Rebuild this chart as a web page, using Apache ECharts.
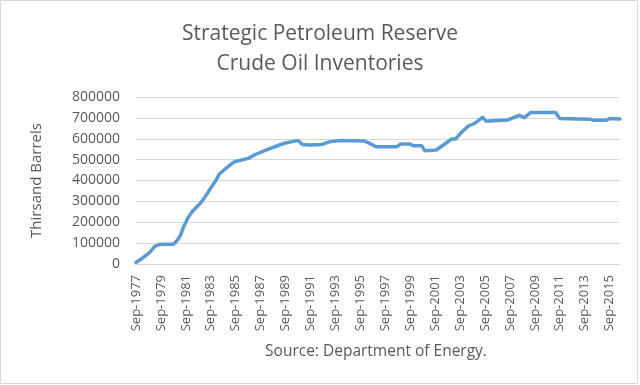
<!DOCTYPE html>
<html>
<head>
<meta charset="utf-8">
<script src="https://cdn.jsdelivr.net/npm/echarts@6/dist/echarts.min.js"></script>
<style>
html,body{margin:0;padding:0;background:#fff;}
#chart{width:640px;height:385px;}
</style>
</head>
<body>
<div id="chart"></div>
<script>
// Axis range (monthly categories)
const startYear = 1977, startMonth = 8; // Sep-1977 (0-based month)
const monthCount = 467;                   // through Jul-2016
const monthNames = ['Jan','Feb','Mar','Apr','May','Jun','Jul','Aug','Sep','Oct','Nov','Dec'];

// Readings from the reference (thousand barrels)
const pointDates = ['Sep-1977','May-1978','Oct-1978','Mar-1979','Jul-1979','Dec-1979','Sep-1980','Jan-1981','Apr-1981','Jul-1981',
  'Nov-1981','Mar-1982','Dec-1982','Jun-1983','Sep-1983','Feb-1984','May-1984','Dec-1984','Aug-1985','Sep-1986',
  'May-1987','Feb-1988','Mar-1989','Oct-1989','Aug-1990','Oct-1990','Jan-1991','Aug-1991','Aug-1992','Mar-1993',
  'Feb-1994','Jan-1996','Jun-1996','Dec-1996','Aug-1998','Dec-1998','Aug-1999','Dec-1999','Aug-2000','Nov-2000',
  'Oct-2001','May-2002','Jan-2003','May-2003','Oct-2003','May-2004','Nov-2004','Jul-2005','Oct-2005','May-2006',
  'Jul-2007','Jun-2008','Nov-2008','May-2009','May-2011','Sep-2011','Feb-2014','May-2014','Jun-2015','Sep-2015',
  'Jul-2016'];
const pointValues = [7000,35000,55000,85000,93000,95000,95000,115000,140000,180000,
  222000,250000,297000,340000,365000,400000,430000,460000,490000,506000,
  527000,546000,570000,581000,591000,588000,573000,570000,573000,585000,
  592000,589000,578000,562000,562000,575000,575000,567000,567000,543000,
  546000,570000,599000,599000,629000,661000,674000,703000,684000,686000,
  690000,712000,701000,726000,726000,697000,694000,689000,689000,697000,
  695000];

const titleText = 'Strategic Petroleum Reserve\nCrude Oil Inventories';
const yAxisTitle = 'Thirsand Barrels';
const sourceText = 'Source: Department of Energy.';

const categories = [];
for (let i = 0; i < monthCount; i++) {
  const mm = (startMonth + i) % 12;
  const yy = startYear + Math.floor((startMonth + i) / 12);
  categories.push(monthNames[mm] + '-' + yy);
}
const seriesData = pointDates.map((d, i) => [d, pointValues[i]]);

const FONT = '"Open Sans", "Noto Sans", sans-serif';
const chart = echarts.init(document.getElementById('chart'), null, {renderer: 'canvas'});
chart.setOption({
  animation: false,
  backgroundColor: '#ffffff',
  title: {
    text: titleText,
    left: 'center',
    top: 14,
    textStyle: {color: '#595959', fontSize: 21, fontWeight: 'normal', fontFamily: FONT, lineHeight: 30}
  },
  grid: {left: 136, right: 20, top: 97, bottom: 121, containLabel: false},
  xAxis: {
    type: 'category',
    data: categories,
    boundaryGap: false,
    axisLine: {show: true, lineStyle: {color: '#d9d9d9', width: 1}},
    axisTick: {show: false},
    axisLabel: {interval: 23, rotate: 90, color: '#595959', fontSize: 13, fontFamily: FONT, margin: 11}
  },
  yAxis: {
    type: 'value',
    min: 0, max: 800000, interval: 100000,
    name: yAxisTitle,
    nameLocation: 'middle',
    nameGap: 92,
    nameTextStyle: {color: '#595959', fontSize: 15, fontFamily: FONT},
    axisLine: {show: false},
    axisTick: {show: false},
    axisLabel: {color: '#595959', fontSize: 14, fontFamily: FONT, margin: 16, formatter: v => String(v)},
    splitLine: {lineStyle: {color: '#d9d9d9', width: 1}}
  },
  series: [{
    type: 'line',
    data: seriesData,
    showSymbol: false,
    symbol: 'none',
    lineStyle: {color: '#5b9bd5', width: 3.5, cap: 'round', join: 'round'},
    itemStyle: {color: '#5b9bd5'}
  }],
  graphic: [
    {type: 'rect', shape: {x: 0.5, y: 0.5, width: 637, height: 383}, style: {fill: 'none', stroke: '#d9d9d9', lineWidth: 1}, silent: true},
    {type: 'text', x: 376, y: 352, style: {text: sourceText, fill: '#595959', font: '15.5px ' + FONT, textAlign: 'center', textVerticalAlign: 'middle'}}
  ]
});
</script>
</body>
</html>
